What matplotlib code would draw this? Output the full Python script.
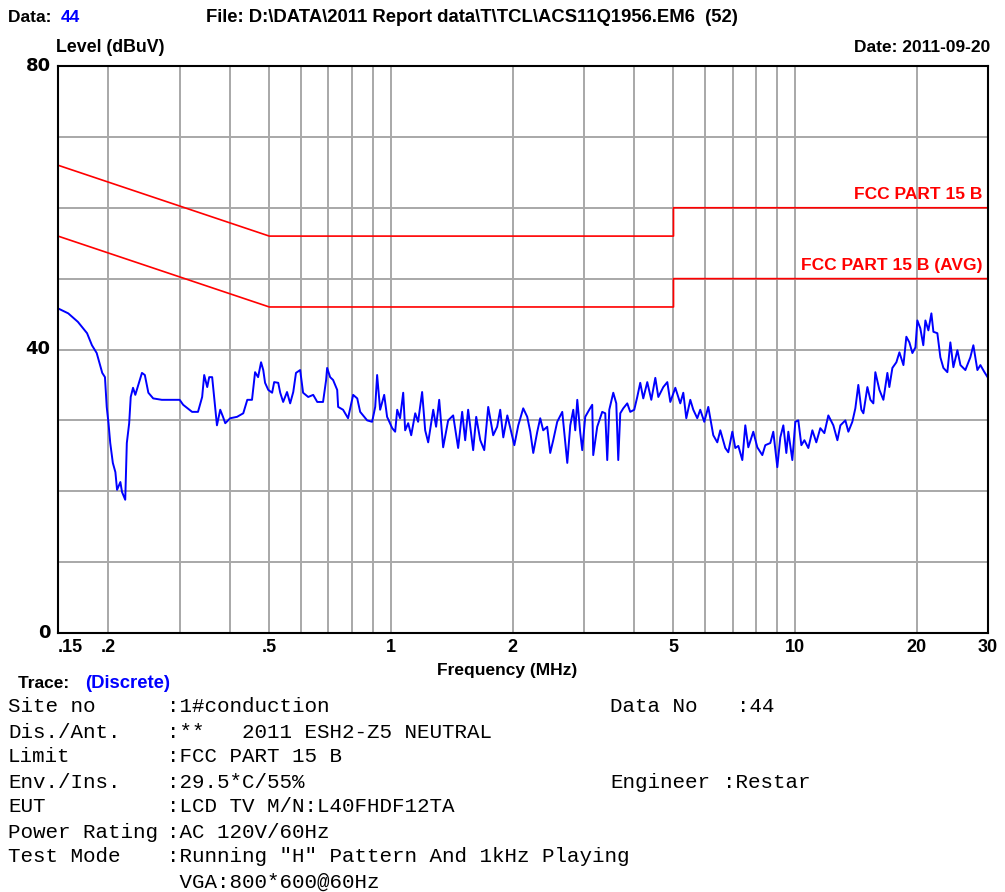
import matplotlib
matplotlib.use("Agg")
import matplotlib.pyplot as plt
from matplotlib.ticker import NullLocator, NullFormatter

# trace (MHz, dBuV)
freq = [0.150, 0.159, 0.168, 0.177, 0.182, 0.187, 0.193, 0.196, 0.198, 0.200,
        0.202, 0.205, 0.208, 0.210, 0.214, 0.216, 0.220, 0.222, 0.225, 0.227,
        0.230, 0.233, 0.237, 0.242, 0.246, 0.251, 0.258, 0.271, 0.287, 0.300,
        0.306, 0.322, 0.333, 0.341, 0.345, 0.351, 0.355, 0.361, 0.365, 0.371,
        0.378, 0.384, 0.389, 0.400, 0.416, 0.431, 0.441, 0.453, 0.461, 0.469,
        0.477, 0.483, 0.488, 0.497, 0.508, 0.514, 0.526, 0.532, 0.541, 0.553,
        0.563, 0.573, 0.582, 0.596, 0.606, 0.624, 0.642, 0.657, 0.679, 0.691,
        0.695, 0.707, 0.719, 0.736, 0.740, 0.761, 0.783, 0.806, 0.825, 0.839,
        0.873, 0.898, 0.914, 0.924, 0.940, 0.962, 0.978, 1.007, 1.024, 1.036,
        1.053, 1.072, 1.084, 1.103, 1.122, 1.148, 1.167, 1.194, 1.215, 1.236,
        1.272, 1.293, 1.316, 1.346, 1.385, 1.425, 1.466, 1.500, 1.526, 1.552,
        1.597, 1.625, 1.663, 1.701, 1.740, 1.790, 1.831, 1.863, 1.896, 1.940,
        1.973, 2.019, 2.065, 2.124, 2.173, 2.211, 2.249, 2.301, 2.340, 2.380,
        2.435, 2.477, 2.520, 2.578, 2.653, 2.730, 2.777, 2.825, 2.857, 2.890,
        2.940, 2.973, 3.024, 3.094, 3.147, 3.165, 3.238, 3.331, 3.389, 3.428,
        3.468, 3.548, 3.609, 3.650, 3.692, 3.756, 3.842, 3.908, 3.998, 4.067,
        4.137, 4.209, 4.306, 4.406, 4.508, 4.586, 4.718, 4.827, 4.910, 5.052,
        5.197, 5.287, 5.378, 5.502, 5.597, 5.725, 5.823, 5.958, 6.096, 6.272,
        6.417, 6.528, 6.716, 6.832, 6.990, 7.110, 7.234, 7.400, 7.527, 7.657,
        7.878, 8.060, 8.293, 8.435, 8.679, 8.829, 9.033, 9.189, 9.348, 9.509,
        9.618, 9.840, 10.01, 10.18, 10.36, 10.54, 10.78, 11.03, 11.28, 11.54,
        11.81, 12.08, 12.43, 12.72, 12.94, 13.31, 13.54, 13.85, 14.09, 14.33,
        14.58, 14.75, 15.09, 15.35, 15.61, 15.79, 16.16, 16.53, 16.91, 17.10,
        17.40, 17.80, 18.11, 18.53, 18.84, 19.17, 19.50, 19.84, 20.06, 20.40,
        20.75, 21.00, 21.36, 21.73, 21.98, 22.48, 22.87, 23.27, 23.80, 24.21,
        24.63, 25.20, 25.64, 26.37, 27.13, 27.60, 28.24, 28.73, 29.40, 30.00]
level = [45.8, 45.1, 43.9, 42.3, 40.6, 39.5, 36.7, 36.1, 31.9, 29.6,
         26.8, 24.0, 22.7, 20.2, 21.3, 19.9, 18.8, 26.8, 29.6, 33.3,
         34.6, 33.6, 35.0, 36.7, 36.4, 33.9, 33.1, 32.9, 32.9, 32.9,
         32.2, 31.2, 31.2, 33.3, 36.4, 34.7, 36.1, 36.1, 33.3, 29.3,
         31.5, 30.5, 29.6, 30.3, 30.5, 31.0, 32.9, 32.9, 36.8, 36.1,
         38.2, 37.1, 35.3, 34.3, 33.9, 35.4, 35.3, 33.9, 32.6, 34.0,
         32.4, 34.0, 36.7, 37.1, 33.9, 33.3, 33.6, 32.6, 32.6, 35.7,
         37.4, 36.1, 35.7, 34.3, 31.9, 31.5, 30.3, 33.6, 33.1, 31.2,
         30.0, 29.8, 31.9, 36.4, 31.5, 33.6, 30.5, 28.9, 28.4, 31.5,
         30.3, 33.9, 28.6, 29.6, 27.9, 31.0, 29.8, 34.0, 28.6, 26.9,
         31.5, 29.1, 32.9, 26.2, 30.0, 30.7, 26.1, 31.2, 27.2, 31.5,
         25.8, 30.5, 27.2, 25.8, 31.9, 27.9, 29.1, 31.5, 27.6, 30.7,
         28.9, 26.5, 29.3, 31.7, 30.5, 28.4, 25.4, 28.4, 30.3, 28.6,
         29.1, 25.4, 27.2, 29.8, 31.2, 24.0, 29.3, 31.5, 28.6, 32.9,
         28.2, 25.8, 30.5, 31.5, 32.2, 25.1, 29.1, 31.2, 31.0, 24.4,
         31.5, 33.9, 32.4, 24.4, 31.0, 31.7, 32.4, 31.2, 31.5, 33.3,
         35.3, 33.1, 35.4, 32.9, 36.0, 33.3, 34.7, 35.4, 32.6, 34.6,
         32.4, 33.9, 30.3, 32.9, 31.5, 30.3, 31.5, 29.8, 31.9, 27.9,
         26.9, 28.6, 26.1, 25.5, 28.4, 26.1, 26.4, 24.4, 29.3, 26.2,
         28.4, 26.2, 25.1, 26.5, 26.8, 28.4, 23.4, 27.6, 29.3, 25.4,
         28.4, 24.4, 29.8, 30.0, 26.5, 27.2, 26.1, 28.6, 26.9, 28.9,
         28.2, 30.7, 29.3, 27.2, 29.3, 30.0, 28.4, 29.8, 31.7, 35.0,
         31.5, 31.0, 34.7, 32.9, 32.4, 36.8, 34.3, 32.9, 36.7, 34.7,
         37.4, 38.2, 39.6, 37.8, 41.8, 41.0, 39.5, 40.3, 44.1, 43.0,
         40.6, 44.1, 42.7, 45.1, 42.5, 42.3, 38.9, 37.4, 36.8, 41.0,
         37.5, 39.9, 37.8, 37.1, 38.9, 40.6, 37.1, 37.8, 36.8, 36.0]

# FCC part 15 B limits
qp_freq = [0.15, 0.5, 0.5, 5.0, 5.0, 30.0]
qp_level = [66, 56, 56, 56, 60, 60]
avg_level = [56, 46, 46, 46, 50, 50]

grid_freqs = [0.2, 0.3, 0.4, 0.5, 0.6, 0.7, 0.8, 0.9, 1, 2, 3, 4, 5, 6, 7, 8, 9, 10, 20]
tick_freqs = [0.2, 0.5, 1, 2, 5, 10, 20]
tick_labels = [".2", ".5", "1", "2", "5", "10", "20"]

info_labels = ["Site no", "Dis./Ant.", "Limit", "Env./Ins.", "EUT",
               "Power Rating", "Test Mode", ""]
info_values = [":1#conduction", ":**   2011 ESH2-Z5 NEUTRAL", ":FCC PART 15 B",
               ":29.5*C/55%", ":LCD TV M/N:L40FHDF12TA", ":AC 120V/60Hz",
               ':Running "H" Pattern And 1kHz Playing', " VGA:800*600@60Hz"]

W, H = 1005, 892
def px(x):
    return x / W
def py(y):
    return 1 - y / H

sans = ["Liberation Sans", "DejaVu Sans"]
mono = ["Liberation Mono", "DejaVu Sans Mono"]
plt.rcParams["font.family"] = sans

fig = plt.figure(figsize=(10.05, 8.92), dpi=100)
ax = fig.add_axes([px(58), py(633), px(988) - px(58), py(66) - py(633)])

ax.plot(freq, level, color="#0000ff", linewidth=1.4)
ax.plot(qp_freq, qp_level, color="#ff0000", linewidth=1.2)
ax.plot(qp_freq, avg_level, color="#ff0000", linewidth=1.2)

ax.set_xscale("log")
ax.set_xlim(0.15, 30)
ax.set_ylim(0, 80)
ax.xaxis.set_major_locator(NullLocator())
ax.xaxis.set_minor_locator(NullLocator())
ax.xaxis.set_minor_formatter(NullFormatter())
ax.set_yticks(range(0, 81, 10))
ax.set_yticklabels([])
ax.tick_params(length=0)
for f in grid_freqs:
    ax.axvline(f, color="#a8a8a8", linewidth=1.4, zorder=0)
ax.yaxis.grid(True, color="#a8a8a8", linewidth=1.4)
ax.set_axisbelow(True)
for s in ax.spines.values():
    s.set_color("black")
    s.set_linewidth(1.5)

# axis labels
for y, t in zip([0, 40, 80], ["0", "40", "80"]):
    ax.text(-0.008, y / 80, t, transform=ax.transAxes, ha="right", va="center",
            fontsize=13, fontweight="bold", family=["DejaVu Sans"])
for f, t in zip(tick_freqs, tick_labels):
    ax.text(f, -0.025, t, transform=ax.get_xaxis_transform(), ha="center", va="center",
            fontsize=13, fontweight="bold")
ax.text(0.150, -0.025, ".15", transform=ax.get_xaxis_transform(), ha="left", va="center",
        fontsize=13, fontweight="bold")
ax.text(30, -0.025, "30", transform=ax.get_xaxis_transform(), ha="center", va="center",
        fontsize=13, fontweight="bold")

ax.text(0.994, 60 / 80 + 0.01, "FCC PART 15 B", transform=ax.transAxes, color="#ff0000",
        ha="right", va="bottom", fontsize=12.5, fontweight="bold")
ax.text(0.994, 50 / 80 + 0.01, "FCC PART 15 B (AVG)", transform=ax.transAxes, color="#ff0000",
        ha="right", va="bottom", fontsize=12.5, fontweight="bold")

# header
fig.text(px(8), py(17), "Data: ", fontsize=12.5, fontweight="bold", va="center")
fig.text(px(61), py(17), "44", fontsize=12.5, fontweight="bold", va="center", color="#0000ff")
fig.text(px(206), py(17), "File: D:\\DATA\\2011 Report data\\T\\TCL\\ACS11Q1956.EM6  (52)",
         fontsize=13.3, fontweight="bold", va="center")
fig.text(px(56), py(48), "Level (dBuV)", fontsize=12.8, fontweight="bold", va="center")
fig.text(px(990), py(48), "Date: 2011-09-20", fontsize=12.5, fontweight="bold",
         va="center", ha="right")
fig.text(px(507), py(670), "Frequency (MHz)", fontsize=12.5, fontweight="bold",
         va="center", ha="center")
fig.text(px(18), py(684), "Trace: ", fontsize=12.5, fontweight="bold", va="center")
fig.text(px(85), py(684), "(Discrete)", fontsize=13.3, fontweight="bold", va="center",
         color="#0000ff")

# info block
fs = 15
for i, (lab, val) in enumerate(zip(info_labels, info_values)):
    y = py(707 + 25 * i)
    fig.text(px(8), y, lab, family=mono, fontsize=fs, va="center")
    fig.text(px(167), y, val, family=mono, fontsize=fs, va="center")
fig.text(px(610), py(707), "Data No", family=mono, fontsize=fs, va="center")
fig.text(px(737), py(707), ":44", family=mono, fontsize=fs, va="center")
fig.text(px(610), py(782), "Engineer", family=mono, fontsize=fs, va="center")
fig.text(px(723), py(782), ":Restar", family=mono, fontsize=fs, va="center")

fig.savefig("out.png", dpi=100)
